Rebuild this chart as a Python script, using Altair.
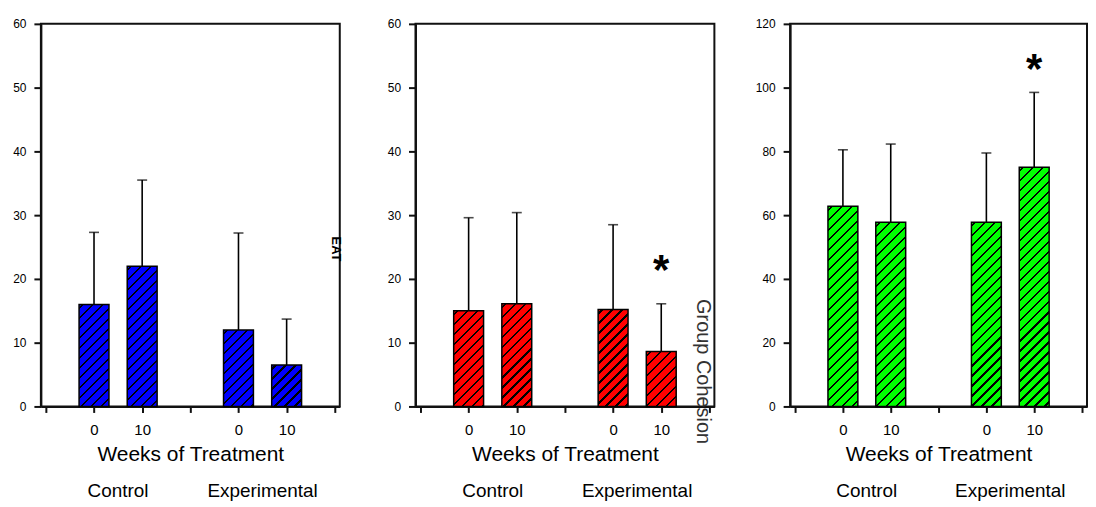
import math
import altair as alt
import pandas as pd

# ---- data ----
WEEKS = ["0", "10", "0", "10"]
XPOS = [1, 2, 4, 5]
GROUPS = ["Control", "Experimental"]
GROUP_X = [1.5, 4.5]

P1_MEAN = [16.0, 22.0, 12.0, 6.5]
P1_SD = [11.3, 13.5, 15.2, 7.2]

P2_MEAN = [15.0, 16.1, 15.2, 8.6]
P2_SD = [14.6, 14.3, 13.3, 7.5]

P3_MEAN = [62.8, 57.8, 57.8, 75.0]
P3_SD = [17.7, 24.5, 21.7, 23.5]

P2_STAR = [22.3]
P3_STAR = [107.8]
STAR_X = [5]

# ---- layout / style ----
H = 384
BAR_W = 30
FONT = "Liberation Sans"
LINE = 2


def hatch(color, w, h, period=7.1, lw=1.6, phase=3.0):
    """45-degree '/' hatch built as a hard-stop linear gradient."""
    h = max(h, 1.0)
    t = (w + h) / (w * w + h * h)
    D = (w + h) / math.sqrt(2)
    stops = [{"offset": 0.0, "color": color}]
    d = phase
    while d < D:
        a = max(0.0, (d - lw / 2) / D)
        b = min(1.0, (d + lw / 2) / D)
        stops += [{"offset": a, "color": color}, {"offset": a, "color": "black"},
                  {"offset": b, "color": "black"}, {"offset": b, "color": color}]
        d += period
    stops.append({"offset": 1.0, "color": color})
    return {"gradient": "linear", "x1": 0, "y1": 0, "x2": t * w, "y2": t * h,
            "stops": stops}


label_expr = " : ".join(
    f"datum.value == {x} ? '{w}'" for x, w in zip(XPOS, WEEKS)) + " : ''"


def panel(mean, sd, color, ymax, ystep, width, star=None, extra=None):
    df = pd.DataFrame({"x": XPOS, "mean": mean, "sd": sd, "i": list(range(4))})
    xsc = alt.Scale(domain=[0, 6], nice=False, zero=False)
    ysc = alt.Scale(domain=[0, ymax], nice=False)
    xax = alt.Axis(values=list(range(7)), labelExpr=label_expr,
                   title="Weeks of Treatment")
    yax = alt.Axis(values=list(range(0, ymax + 1, ystep)), title=None)
    X = alt.X("x:Q", scale=xsc, axis=xax)
    base = alt.Chart(df)
    layers = []
    for k in range(4):
        hpx = mean[k] / ymax * H
        layers.append(
            base.transform_filter(alt.datum.i == k)
            .mark_bar(size=BAR_W, fill=hatch(color, BAR_W, hpx),
                      stroke="black", strokeWidth=1.5)
            .encode(x=X, y=alt.Y("mean:Q", scale=ysc, axis=yax))
        )
    err = base.transform_calculate(top="datum.mean + datum.sd")
    layers.append(
        err.mark_rule(color="black", strokeWidth=1.6)
        .encode(x=X, y=alt.Y("mean:Q", scale=ysc, axis=yax), y2="top:Q")
    )
    layers.append(
        err.mark_tick(orient="horizontal", size=10, thickness=1.6, color="black")
        .encode(x=X, y=alt.Y("top:Q", scale=ysc, axis=yax))
    )
    gdf = pd.DataFrame({"x": GROUP_X, "g": GROUPS})
    layers.append(
        alt.Chart(gdf).mark_text(fontSize=19, font=FONT, baseline="middle",
                                 color="black")
        .encode(x=X, y=alt.value(H + 85), text="g:N")
    )
    if star is not None:
        sdf = pd.DataFrame({"x": STAR_X, "y": star})
        layers.append(
            alt.Chart(sdf).mark_text(text="*", fontSize=42, fontWeight="bold",
                                     font=FONT, baseline="middle", dy=7,
                                     color="black")
            .encode(x=X, y=alt.Y("y:Q", scale=ysc, axis=yax))
        )
    if extra is not None:
        layers.append(extra)
    return alt.layer(*layers).properties(width=width, height=H)


eat = alt.Chart(pd.DataFrame({"t": ["EAT"]})).mark_text(
    angle=90, fontSize=13, fontWeight="bold", font=FONT, color="black",
    baseline="middle"
).encode(x=alt.value(296), y=alt.value(226), text="t:N")

cohesion = alt.Chart(pd.DataFrame({"t": ["Group Cohesion"]})).mark_text(
    angle=90, fontSize=20, font=FONT, color="#333333", baseline="middle"
).encode(x=alt.value(289), y=alt.value(349), text="t:N")

p1 = panel(P1_MEAN, P1_SD, "#0000FF", 60, 10, 300, extra=eat)
p2 = panel(P2_MEAN, P2_SD, "#FF0000", 60, 10, 300, star=P2_STAR, extra=cohesion)
p3 = panel(P3_MEAN, P3_SD, "#00FF00", 120, 20, 298, star=P3_STAR)

chart = (
    alt.hconcat(p1, p2, p3, spacing=76, bounds="flush")
    .properties(padding={"left": 3, "top": 8, "right": 0, "bottom": 0},
                background="white")
    .configure_view(stroke="#111111", strokeWidth=LINE)
    .configure_axis(grid=False, domainColor="#111111", domainWidth=LINE,
                    tickColor="#111111", tickWidth=LINE, labelColor="black",
                    labelFont=FONT, titleFont=FONT, titleColor="black",
                    titleFontWeight="normal")
    .configure_axisX(tickSize=6, labelFontSize=15, labelPadding=10,
                     titleFontSize=21, titlePadding=6, labelFlush=False)
    .configure_axisY(tickSize=7, labelFontSize=12, labelPadding=8)
)

chart.save("out.html", embed_options={"renderer": "svg", "actions": False})
